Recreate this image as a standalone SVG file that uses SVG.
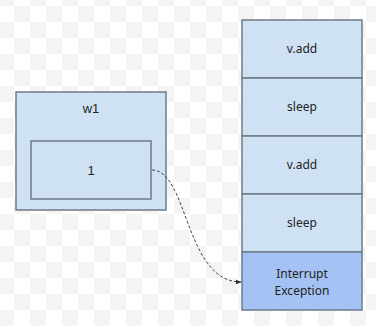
<svg xmlns="http://www.w3.org/2000/svg" width="376" height="326" viewBox="0 0 376 326">
<defs>
<pattern id="chk" x="-2" y="-10" width="32" height="32" patternUnits="userSpaceOnUse">
<rect width="32" height="32" fill="#ffffff"/>
<rect width="16" height="16" fill="#f4f4f4"/>
<rect x="16" y="16" width="16" height="16" fill="#f4f4f4"/>
</pattern>
<marker id="arr" viewBox="0 0 10 10" refX="9" refY="5" markerWidth="6" markerHeight="6" orient="auto" markerUnits="userSpaceOnUse">
<path d="M0,1 L10,5 L0,9 z" fill="#333"/>
</marker>
</defs>
<style>
.box{fill:#cfe2f3;stroke:#6f7b88;stroke-width:1.5}
.exc{fill:#a4c2f4;stroke:#6f7b88;stroke-width:1.5}
.t{font-family:"Noto Sans","Open Sans",sans-serif;font-size:12px;fill:#222;text-anchor:middle}
.a{font-family:"Liberation Sans",Arial,sans-serif;font-size:13px;fill:#222;text-anchor:middle}
.conn{fill:none;stroke:#444;stroke-width:1;stroke-dasharray:3,2}
</style>
<rect width="376" height="326" fill="url(#chk)"/>
<g id="w1">
<rect class="box" x="16" y="92" width="150" height="118"/>
<text class="a" x="91" y="113">w1</text>
</g>
<g id="val1">
<rect class="box" x="31" y="141" width="120" height="58"/>
<text class="a" x="91" y="175">1</text>
</g>
<g id="s1">
<rect class="box" x="242" y="20" width="120" height="58"/>
<text class="t" x="302" y="53">v.add</text>
</g>
<g id="s2">
<rect class="box" x="242" y="78" width="120" height="58"/>
<text class="t" x="302" y="111">sleep</text>
</g>
<g id="s3">
<rect class="box" x="242" y="136" width="120" height="58"/>
<text class="t" x="302" y="169">v.add</text>
</g>
<g id="s4">
<rect class="box" x="242" y="194" width="120" height="58"/>
<text class="t" x="302" y="227">sleep</text>
</g>
<g id="s5">
<rect class="exc" x="242" y="252" width="120" height="58"/>
<text class="t" x="302" y="278">Interrupt</text>
<text class="t" x="302" y="295">Exception</text>
</g>
<g id="connectors">
<path class="conn" d="M152,170 C188,170 185,282 241,282" marker-end="url(#arr)"/>
</g>
</svg>
